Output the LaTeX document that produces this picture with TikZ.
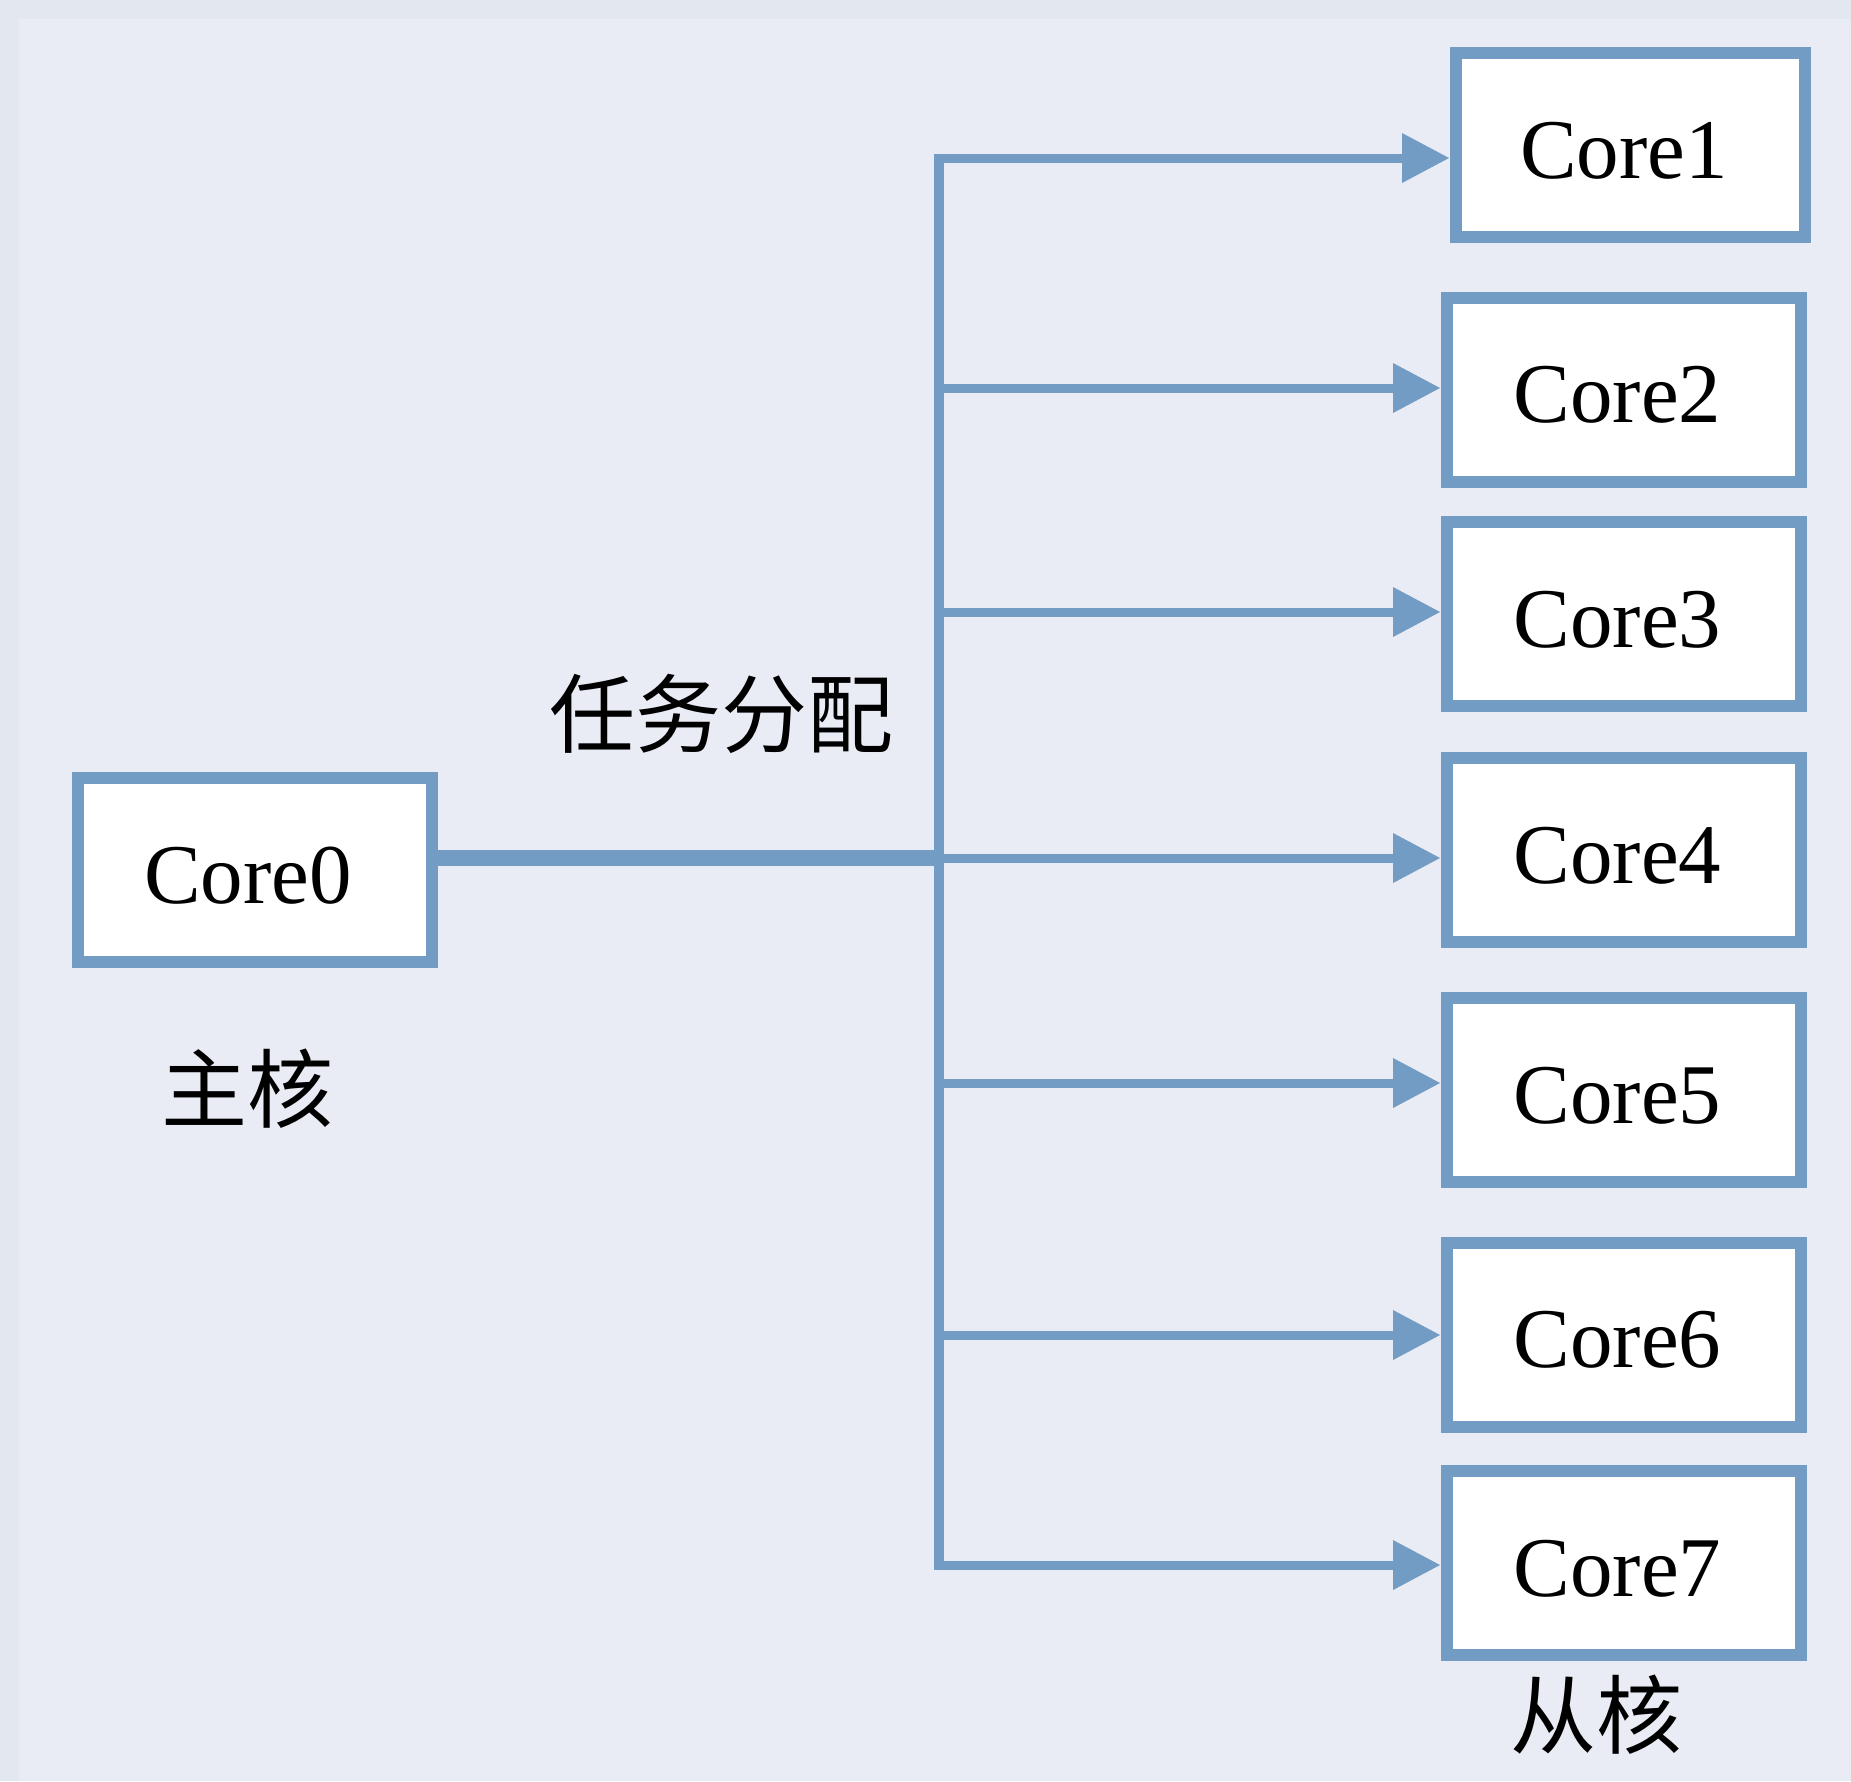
\documentclass[tikz,border=0pt]{standalone}
\usepackage{fontspec}
\setmainfont{Liberation Serif}
\newfontfamily\cjk{Noto Sans CJK SC}
\usetikzlibrary{arrows.meta}
\definecolor{edgec}{RGB}{114,156,195}
\definecolor{bgout}{RGB}{227,231,239}
\definecolor{bgin}{RGB}{233,236,244}
\begin{document}
\begin{tikzpicture}[x=1pt,y=-1pt,
  corebox/.style={draw=edgec, line width=12pt, fill=white, minimum width=354pt,
    minimum height=184pt, inner sep=0pt, font=\fontsize{85}{90}\selectfont,
    text height=66pt, text depth=0pt},
  arr/.style={draw=edgec, line width=9pt, shorten >=1pt,
    -{Triangle[length=47pt,width=50pt,line width=0pt]}},
  bus/.style={draw=edgec, line width=10pt},
  trunk/.style={draw=edgec, line width=16pt},
  lbl/.style={font=\cjk\fontsize{86}{90}\selectfont, inner sep=0pt}]
\useasboundingbox (0,0) rectangle (1851,1781);
\fill[bgout] (0,0) rectangle (1851,1781);
\fill[bgin] (19,19) rectangle (1851,1781);

\node[corebox] (c0) at (255,870) {Core0\kern14pt};
\node[corebox, minimum width=349pt] (c1) at (1630.5,145) {Core1\kern13pt};
\node[corebox] (c2) at (1624,389.5) {Core2\kern13pt};
\node[corebox] (c3) at (1624,614) {Core3\kern13pt};
\node[corebox] (c4) at (1624,850) {Core4\kern13pt};
\node[corebox] (c5) at (1624,1090) {Core5\kern13pt};
\node[corebox] (c6) at (1624,1334.5) {Core6\kern13pt};
\node[corebox] (c7) at (1624,1563) {Core7\kern13pt};

\coordinate (b1) at (939,158);
\coordinate (b2) at (939,388);
\coordinate (b3) at (939,612);
\coordinate (b4) at (939,858);
\coordinate (b5) at (939,1083);
\coordinate (b6) at (939,1335);
\coordinate (b7) at (939,1565);

\draw[bus] ([yshift=4.5pt]b1) -- ([yshift=-4.5pt]b7);
\draw[trunk] (c0.east |- b4) -- (b4);
\draw[arr] (b1) -- (b1 -| c1.west);
\draw[arr] (b2) -- (b2 -| c2.west);
\draw[arr] (b3) -- (b3 -| c3.west);
\draw[arr] (b4) -- (b4 -| c4.west);
\draw[arr] (b5) -- (b5 -| c5.west);
\draw[arr] (b6) -- (b6 -| c6.west);
\draw[arr] (b7) -- (b7 -| c7.west);

\node[lbl] (zhu) at (247,1089) {主核};
\node[lbl] (task) at (721,714) {任务分配};
\node[lbl] (cong) at (1596,1715) {从核};
\end{tikzpicture}
\end{document}
